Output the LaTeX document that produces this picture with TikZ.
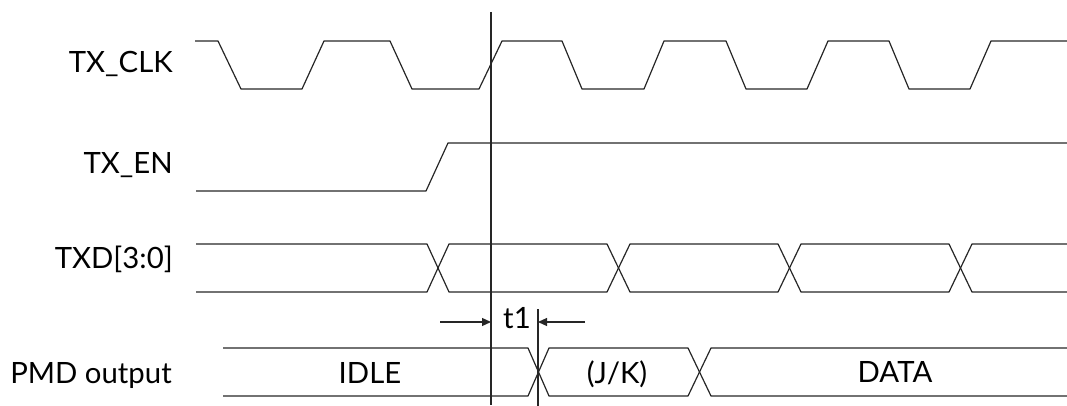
\documentclass[tikz,border=0pt]{standalone}
\usepackage{fontspec}
\setmainfont{Lato}
\usetikzlibrary{arrows.meta}
\begin{document}
\begin{tikzpicture}[x=0.75pt,y=-0.75pt,
  wave/.style={line width=0.9pt, line join=round, black!85},
  marker/.style={line width=0.9pt, black!85},
  dimarrow/.style={line width=0.9pt, black!85, -{Triangle[length=6.75pt,width=6pt]}},
  lbl/.style={anchor=base east, font=\fontsize{22}{26}\selectfont, inner sep=0pt},
  txt/.style={anchor=base, font=\fontsize{22}{26}\selectfont, inner sep=0pt}]
\useasboundingbox (0,0) rectangle (1067,406);

% signal names
\node[lbl] (clk) at (173,73) {TX\_CLK};
\node[lbl] (en)  at (173,174) {TX\_EN};
\node[lbl] (txd) at (173,268) {TXD[3:0]};
\node[lbl] (pmd) at (172,383) {PMD output};

% TX_CLK
\draw[wave] (195,41) -- (218,41) -- (241,89) -- (302,89) -- (324,41) -- (390,41)
  -- (412,89) -- (479,89) -- (502,41) -- (562,41) -- (582,89) -- (644,89)
  -- (664,41) -- (726,41) -- (746,89) -- (807,89) -- (828,41) -- (889,41)
  -- (909,89) -- (970,89) -- (991,41) -- (1067,41);

% TX_EN
\draw[wave] (196,191) -- (426,191) -- (448,143) -- (1067,143);

% TXD[3:0]
\draw[wave] (196,244) -- (427,244) -- (449,292) -- (607,292) -- (630,244) -- (778,244)
  -- (801,292) -- (949,292) -- (972,244) -- (1067,244);
\draw[wave] (196,292) -- (427,292) -- (449,244) -- (607,244) -- (630,292) -- (778,292)
  -- (801,244) -- (949,244) -- (972,292) -- (1067,292);

% PMD output
\draw[wave] (223,348) -- (528,348) -- (549,396) -- (688,396) -- (711,348) -- (1067,348);
\draw[wave] (223,396) -- (528,396) -- (549,348) -- (688,348) -- (711,396) -- (1067,396);
\node[txt] (idle) at (370,383) {IDLE};
\node[txt] (jk)   at (617,383) {(J/K)};
\node[txt] (data) at (895,382) {DATA};

% markers
\coordinate (m1top) at (491,12);
\coordinate (m1bot) at (491,405);
\coordinate (m2top) at (538,309);
\coordinate (m2bot) at (538,406);
\draw[marker] (m1top) -- (m1bot);
\draw[marker] (m2top) -- (m2bot);

% t1
\coordinate (a1) at (440,322);
\coordinate (m1) at (491,322);
\coordinate (a2) at (585,322);
\coordinate (m2) at (538,322);
\draw[dimarrow] (a1) -- (m1);
\draw[dimarrow] (a2) -- (m2);
\node[txt] (t1) at (517,328) {t1};
\end{tikzpicture}
\end{document}
